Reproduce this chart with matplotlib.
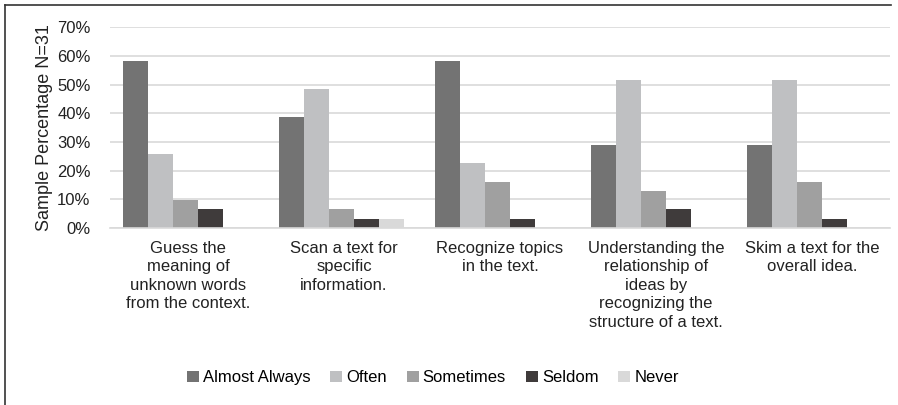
import matplotlib.pyplot as plt
import numpy as np
from matplotlib.lines import Line2D

plt.rcParams['font.family'] = ['Liberation Sans', 'DejaVu Sans']

categories = ['Guess the\nmeaning of\nunknown words\nfrom the context.',
              'Scan a text for\nspecific\ninformation.',
              'Recognize topics\nin the text.',
              'Understanding the\nrelationship of\nideas by\nrecognizing the\nstructure of a text.',
              'Skim a text for the\noverall idea.']
series = ['Almost Always', 'Often', 'Sometimes', 'Seldom', 'Never']
almost_always = [58.1, 38.7, 58.1, 29.0, 29.0]
often = [25.8, 48.4, 22.6, 51.6, 51.6]
sometimes = [9.7, 6.5, 16.1, 12.9, 16.1]
seldom = [6.5, 3.2, 3.2, 6.5, 3.2]
never = [0.0, 3.2, 0.0, 0.0, 0.0]
yticks = [0, 10, 20, 30, 40, 50, 60, 70]

colors = ['#737373', '#bfc0c2', '#a0a0a0', '#3f3b3b', '#d9d9d9']
values = [almost_always, often, sometimes, seldom, never]

fig = plt.figure(figsize=(8.98, 4.05), dpi=100)
ax = fig.add_axes([0.1225, 0.437, 0.8685, 0.496])

x = np.arange(len(categories))
width = 0.16
for i, (name, vals, c) in enumerate(zip(series, values, colors)):
    ax.bar(x + (i - 2) * width - 0.015, vals, width, color=c, label=name, zorder=2)

ax.set_xlim(-0.5, len(categories) - 0.5)
ax.set_ylim(0, 70)
ax.set_yticks(yticks)
ax.set_yticklabels([f'{t}%' for t in yticks], fontsize=12, color='#222222')
ax.yaxis.grid(True, color='#d9d9d9', linewidth=1.2, zorder=0)
ax.set_axisbelow(True)
for s in ['top', 'right', 'left']:
    ax.spines[s].set_visible(False)
ax.spines['bottom'].set_color('#d9d9d9')
ax.spines['bottom'].set_linewidth(1.2)
ax.tick_params(axis='both', length=0)
ax.tick_params(axis='y', pad=14)
ax.set_xticks(x)
ax.set_xticklabels(categories, fontsize=12, color='#222222', linespacing=1.3,
                   va='top')
ax.tick_params(axis='x', pad=9)
ax.set_ylabel('Sample Percentage N=31', fontsize=13, color='#222222', labelpad=3)

ax.legend(loc='center', bbox_to_anchor=(0.414, -0.745), ncol=5, frameon=False,
          fontsize=12, handlelength=0.7, handleheight=0.7, handletextpad=0.25,
          columnspacing=1.2)

# outer frame lines (top and left)
fig.add_artist(Line2D([5 / 898, 0.992], [1 - 5 / 405, 1 - 5 / 405],
                      transform=fig.transFigure, color='#333333', linewidth=1.2))
fig.add_artist(Line2D([5 / 898, 5 / 898], [0, 1 - 5 / 405],
                      transform=fig.transFigure, color='#333333', linewidth=1.2))

fig.savefig('out.png', dpi=100)
